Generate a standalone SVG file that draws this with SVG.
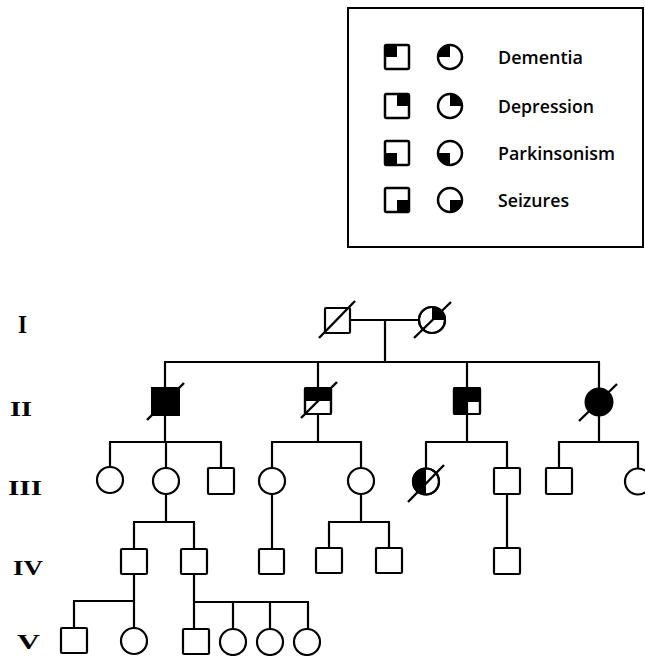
<svg xmlns="http://www.w3.org/2000/svg" width="645" height="656" viewBox="0 0 645 656">
<style>
.sh{fill:#fff;stroke:#000;stroke-width:2.2}
.lg{fill:#fff;stroke:#000;stroke-width:2.5}
.f{fill:#000;stroke:none}
.ol{fill:none;stroke:#000;stroke-width:2.2}
.sl{stroke:#000;stroke-width:2.4;fill:none}
.cn line{stroke:#000;stroke-width:2.2}
.lt{font-family:"Open Sans","Noto Sans",sans-serif;font-size:18px;font-weight:600;fill:#000}
.gn{font-family:"Liberation Serif","Times New Roman",serif;font-weight:bold;fill:#000}
</style>
<rect width="645" height="656" fill="#fff"/>

<g id="legend">
<rect x="348" y="8" width="295" height="239" fill="#fff" stroke="#000" stroke-width="2"/>
<g id="leg-dementia">
<rect class="lg" x="385" y="45" width="24" height="24" rx="1.5"/>
<rect class="f" x="385" y="45" width="12" height="12"/>
<circle class="lg" cx="450" cy="57" r="12"/>
<path class="f" d="M450,57 L450,45 A12,12 0 0 0 438,57 Z"/>
<text class="lt" x="498" y="64" textLength="85" lengthAdjust="spacingAndGlyphs">Dementia</text>
</g>
<g id="leg-depression">
<rect class="lg" x="385" y="94" width="24" height="24" rx="1.5"/>
<rect class="f" x="397" y="94" width="12" height="12"/>
<circle class="lg" cx="450" cy="106" r="12"/>
<path class="f" d="M450,106 L450,94 A12,12 0 0 1 462,106 Z"/>
<text class="lt" x="498" y="113" textLength="96" lengthAdjust="spacingAndGlyphs">Depression</text>
</g>
<g id="leg-parkinsonism">
<rect class="lg" x="385" y="141" width="24" height="24" rx="1.5"/>
<rect class="f" x="385" y="153" width="12" height="12"/>
<circle class="lg" cx="450" cy="153" r="12"/>
<path class="f" d="M450,153 L450,165 A12,12 0 0 1 438,153 Z"/>
<text class="lt" x="498" y="160" textLength="117" lengthAdjust="spacingAndGlyphs">Parkinsonism</text>
</g>
<g id="leg-seizures">
<rect class="lg" x="385" y="188" width="24" height="24" rx="1.5"/>
<rect class="f" x="397" y="200" width="12" height="12"/>
<circle class="lg" cx="450" cy="200" r="12"/>
<path class="f" d="M450,200 L450,212 A12,12 0 0 0 462,200 Z"/>
<text class="lt" x="498" y="207" textLength="71" lengthAdjust="spacingAndGlyphs">Seizures</text>
</g>
</g>

<g id="gen-labels">
<text class="gn" x="18" y="333" font-size="26" textLength="9" lengthAdjust="spacingAndGlyphs">I</text>
<text class="gn" x="10" y="416" font-size="21" textLength="22" lengthAdjust="spacingAndGlyphs">II</text>
<text class="gn" x="8" y="495" font-size="21" textLength="34" lengthAdjust="spacingAndGlyphs">III</text>
<text class="gn" x="13" y="575" font-size="21" textLength="30" lengthAdjust="spacingAndGlyphs">IV</text>
<text class="gn" x="17" y="649" font-size="22" textLength="23" lengthAdjust="spacingAndGlyphs">V</text>
</g>

<g id="connectors" class="cn">
<line x1="350" y1="320" x2="419" y2="320"/>
<line x1="385" y1="320" x2="385" y2="362"/>
<line x1="164" y1="362" x2="600" y2="362"/>
<line x1="165" y1="362" x2="165" y2="388"/>
<line x1="318" y1="362" x2="318" y2="388"/>
<line x1="467" y1="362" x2="467" y2="388"/>
<line x1="599" y1="362" x2="599" y2="388"/>

<line x1="165" y1="415" x2="165" y2="442"/>
<line x1="109" y1="442" x2="222" y2="442"/>
<line x1="110" y1="442" x2="110" y2="467"/>
<line x1="166" y1="442" x2="166" y2="468"/>
<line x1="221" y1="442" x2="221" y2="468"/>

<line x1="318" y1="414" x2="318" y2="442"/>
<line x1="271" y1="442" x2="362" y2="442"/>
<line x1="272" y1="442" x2="272" y2="468"/>
<line x1="361" y1="442" x2="361" y2="468"/>

<line x1="467" y1="414" x2="467" y2="442"/>
<line x1="425" y1="442" x2="508" y2="442"/>
<line x1="426" y1="442" x2="426" y2="468"/>
<line x1="507" y1="442" x2="507" y2="468"/>

<line x1="599" y1="415" x2="599" y2="442"/>
<line x1="558" y1="442" x2="639" y2="442"/>
<line x1="559" y1="442" x2="559" y2="468"/>
<line x1="638" y1="442" x2="638" y2="468"/>

<line x1="166" y1="494" x2="166" y2="522"/>
<line x1="133" y1="522" x2="195" y2="522"/>
<line x1="134" y1="522" x2="134" y2="549"/>
<line x1="194" y1="522" x2="194" y2="549"/>

<line x1="272" y1="494" x2="272" y2="549"/>

<line x1="361" y1="494" x2="361" y2="522"/>
<line x1="328" y1="522" x2="390" y2="522"/>
<line x1="329" y1="522" x2="329" y2="548"/>
<line x1="389" y1="522" x2="389" y2="548"/>

<line x1="507" y1="494" x2="507" y2="548"/>

<line x1="134" y1="574" x2="134" y2="628"/>
<line x1="73" y1="601" x2="134" y2="601"/>
<line x1="74" y1="601" x2="74" y2="628"/>

<line x1="194" y1="574" x2="194" y2="629"/>
<line x1="194" y1="602" x2="309" y2="602"/>
<line x1="233" y1="602" x2="233" y2="629"/>
<line x1="270" y1="602" x2="270" y2="629"/>
<line x1="308" y1="602" x2="308" y2="629"/>
</g>

<g id="I-1">
<rect class="sh" x="325" y="308" width="25" height="25" rx="1"/>
<line class="sl" x1="319" y1="338" x2="355" y2="301"/>
</g>
<g id="I-2">
<circle class="sh" cx="432" cy="320" r="13"/>
<path class="f" d="M432,320 L432,307 A13,13 0 0 1 445,320 Z"/>
<circle class="ol" cx="432" cy="320" r="13"/>
<line class="sl" x1="414" y1="338" x2="451" y2="302"/>
</g>

<g id="II-1">
<rect x="152" y="388" width="27" height="27" fill="#000" stroke="#000" stroke-width="2"/>
<line class="sl" x1="147" y1="420" x2="184" y2="383"/>
</g>
<g id="II-2">
<rect class="sh" x="305" y="388" width="26" height="26" rx="1"/>
<rect class="f" x="305" y="388" width="26" height="13"/>
<rect class="ol" x="305" y="388" width="26" height="26" rx="1"/>
<line class="sl" x1="301" y1="418" x2="337" y2="382"/>
</g>
<g id="II-3">
<rect class="sh" x="454" y="388" width="26" height="26" rx="1"/>
<path class="f" d="M454,388 H480 V401 H467 V414 H454 Z"/>
<rect class="ol" x="454" y="388" width="26" height="26" rx="1"/>
<path class="ol" d="M467,414 V401 H480"/>
</g>
<g id="II-4">
<circle cx="599" cy="402" r="13.5" fill="#000" stroke="#000" stroke-width="2"/>
<line class="sl" x1="579" y1="421" x2="617" y2="384"/>
</g>

<g id="III-1"><circle class="sh" cx="110" cy="480" r="13"/></g>
<g id="III-2"><circle class="sh" cx="166" cy="481" r="13"/></g>
<g id="III-3"><rect class="sh" x="208" y="468" width="26" height="26" rx="1"/></g>
<g id="III-4"><circle class="sh" cx="272" cy="481" r="13"/></g>
<g id="III-5"><circle class="sh" cx="361" cy="481" r="13"/></g>
<g id="III-6">
<circle class="sh" cx="426" cy="481.5" r="13"/>
<path class="f" d="M426,468.5 A13,13 0 0 0 426,494.5 Z"/>
<circle class="ol" cx="426" cy="481.5" r="13"/>
<line class="sl" x1="408" y1="502" x2="444" y2="465"/>
</g>
<g id="III-7"><rect class="sh" x="494" y="468" width="26" height="26" rx="1"/></g>
<g id="III-8"><rect class="sh" x="546" y="468" width="26" height="26" rx="1"/></g>
<g id="III-9"><circle class="sh" cx="638" cy="481.5" r="13"/></g>

<g id="IV-1"><rect class="sh" x="121" y="549" width="26" height="25" rx="1"/></g>
<g id="IV-2"><rect class="sh" x="181" y="549" width="26" height="25" rx="1"/></g>
<g id="IV-3"><rect class="sh" x="259" y="549" width="25" height="25" rx="1"/></g>
<g id="IV-4"><rect class="sh" x="316" y="548" width="26" height="25" rx="1"/></g>
<g id="IV-5"><rect class="sh" x="376" y="548" width="26" height="25" rx="1"/></g>
<g id="IV-6"><rect class="sh" x="494" y="548" width="26" height="26" rx="1"/></g>

<g id="V-1"><rect class="sh" x="61" y="628" width="26" height="25" rx="1"/></g>
<g id="V-2"><circle class="sh" cx="134" cy="641" r="13"/></g>
<g id="V-3"><rect class="sh" x="183" y="629" width="26" height="25" rx="1"/></g>
<g id="V-4"><circle class="sh" cx="233" cy="642" r="13"/></g>
<g id="V-5"><circle class="sh" cx="270" cy="642" r="13"/></g>
<g id="V-6"><circle class="sh" cx="307" cy="642" r="13"/></g>
</svg>
